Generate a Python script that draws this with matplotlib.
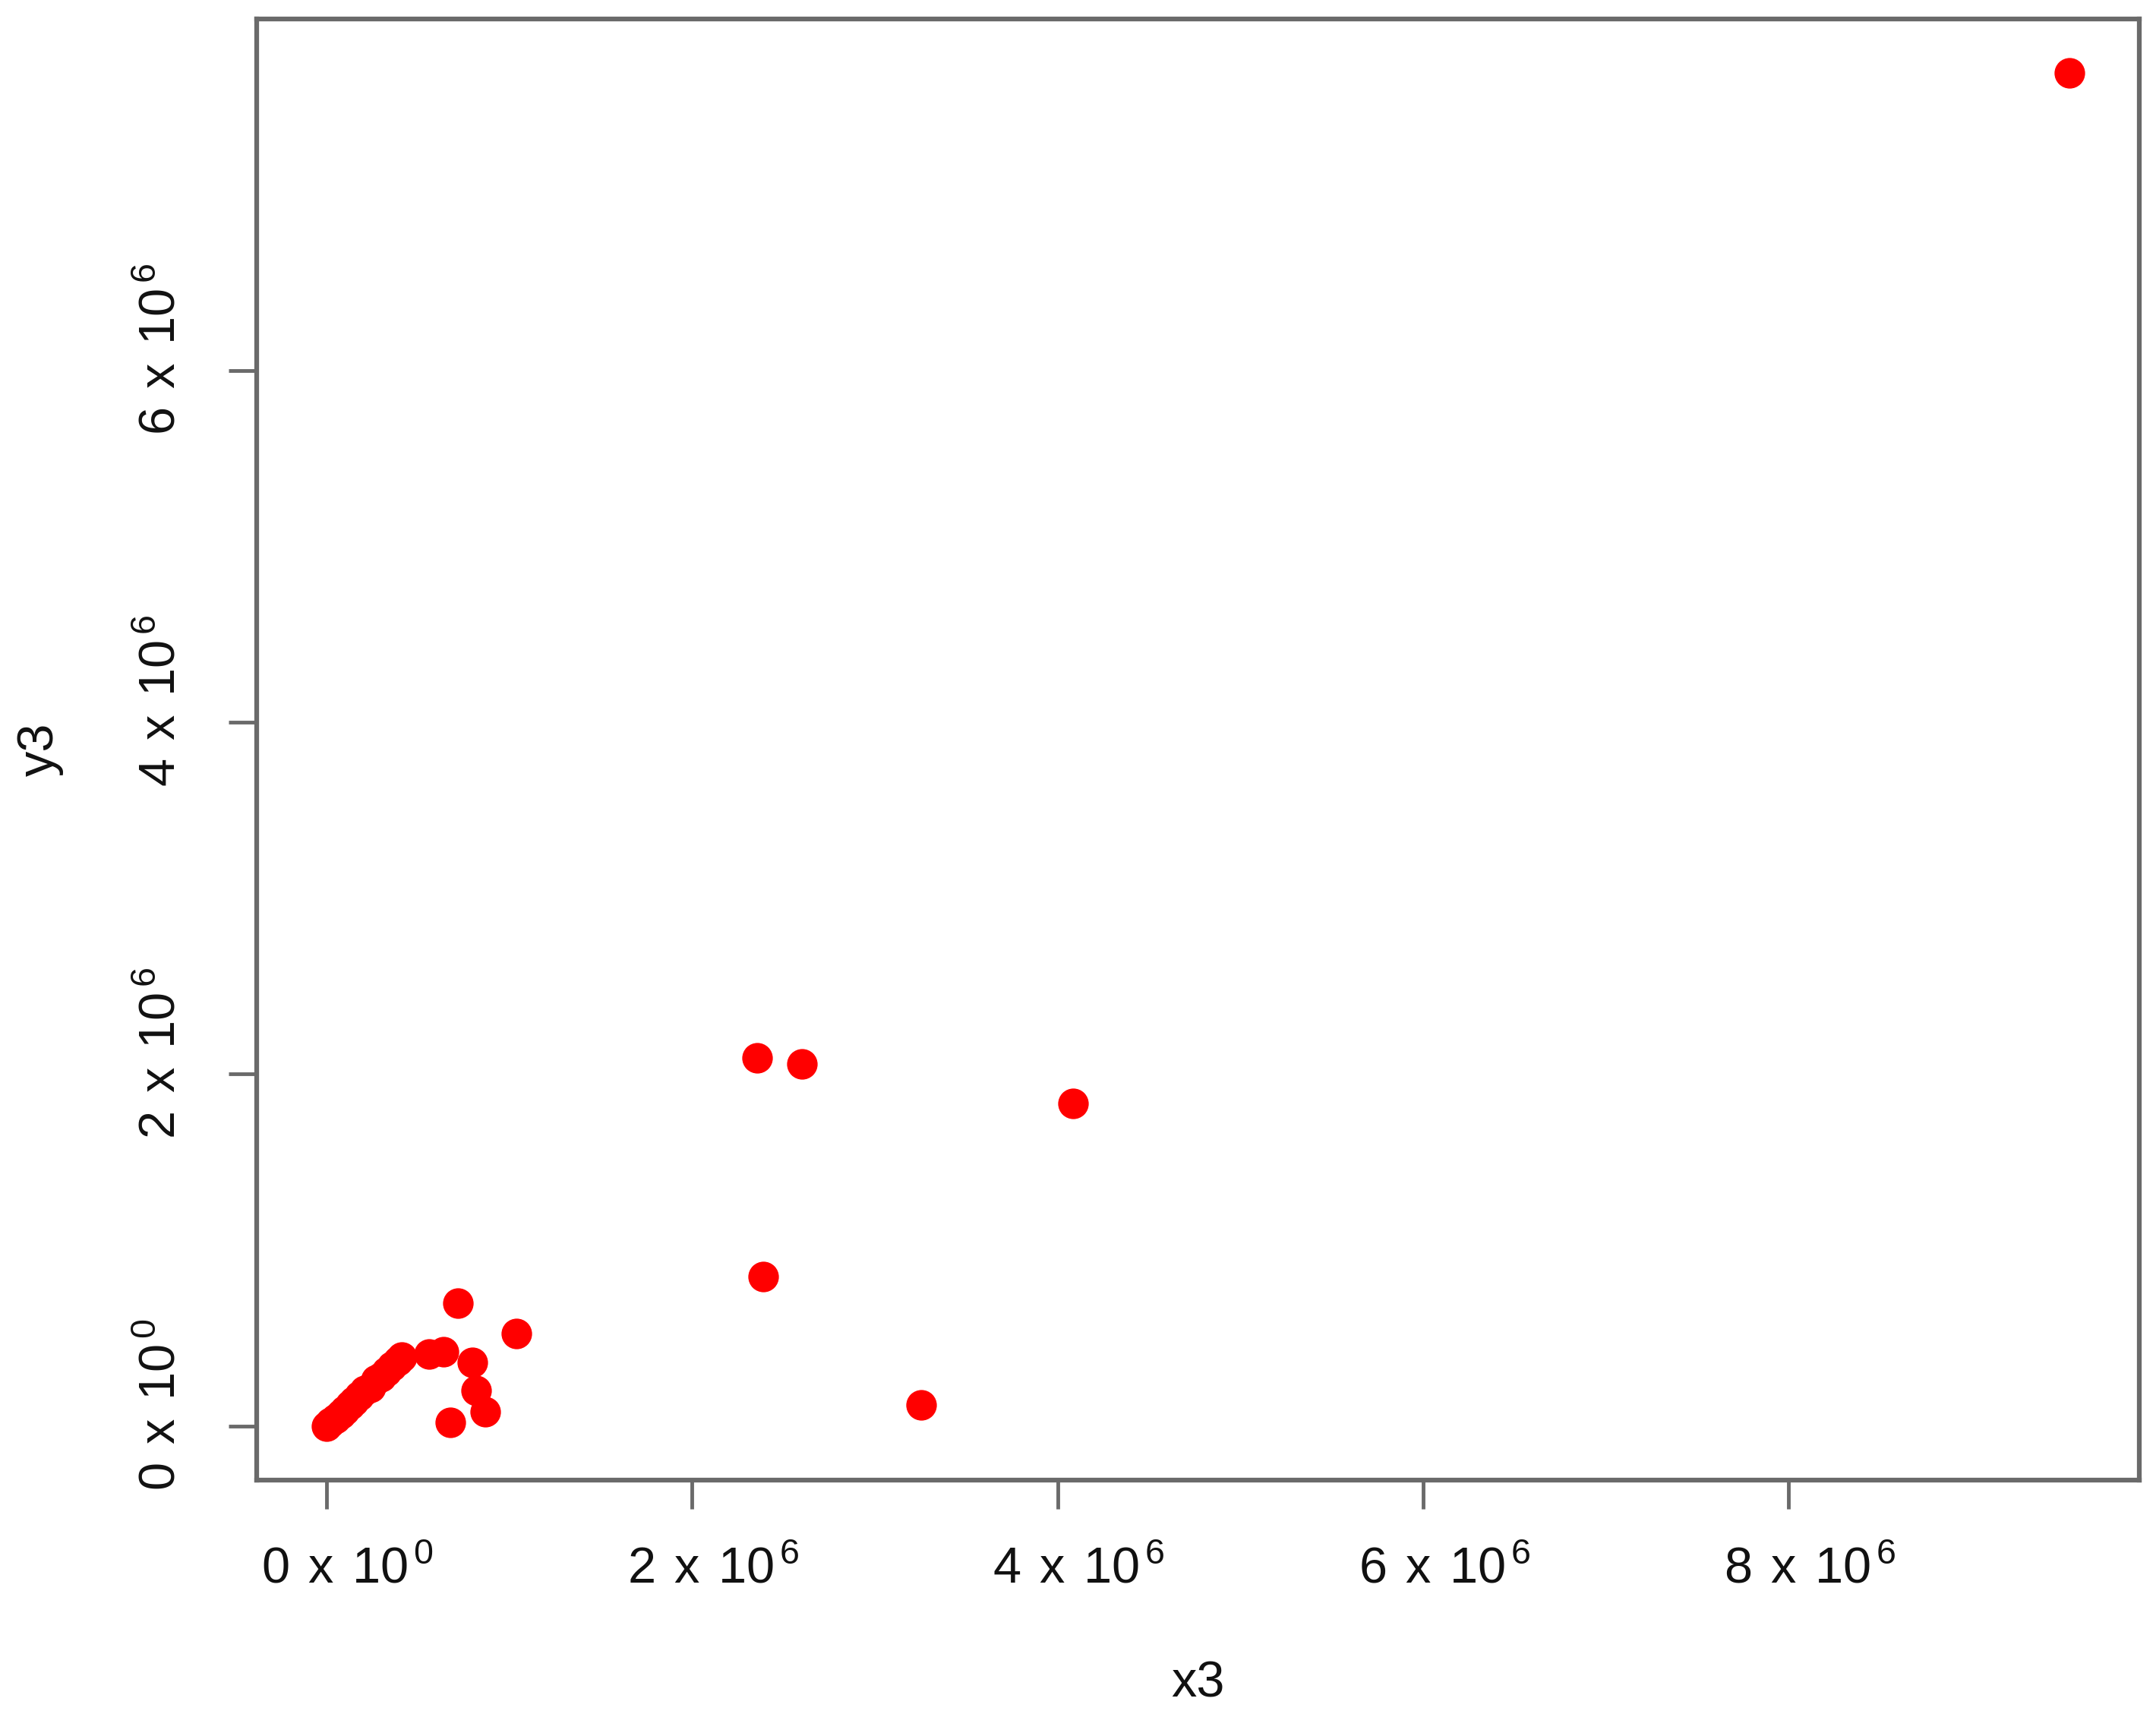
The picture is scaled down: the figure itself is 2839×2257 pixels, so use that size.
import numpy as np
import matplotlib
matplotlib.use('Agg')
import matplotlib.pyplot as plt
from matplotlib.transforms import ScaledTranslation

plt.rcParams['font.family'] = ['Liberation Sans', 'DejaVu Sans']
plt.rcParams['mathtext.fontset'] = 'custom'
plt.rcParams['mathtext.rm'] = 'Liberation Sans'
plt.rcParams['mathtext.it'] = 'Liberation Sans'
plt.rcParams['mathtext.default'] = 'regular'

# values, in millions
x3 = [0.00, 0.02, 0.05, 0.08, 0.10, 0.13, 0.15, 0.18, 0.21, 0.24, 0.27, 0.30,
      0.33, 0.36, 0.39, 0.41,
      0.56, 0.64, 0.72, 1.04, 0.80, 0.82, 0.87, 0.68,
      2.355, 2.60, 4.087, 2.39, 3.255, 9.537]
y3 = [0.00, 0.02, 0.04, 0.07, 0.09, 0.12, 0.14, 0.17, 0.20, 0.22, 0.26, 0.28,
      0.31, 0.34, 0.37, 0.39,
      0.41, 0.42, 0.70, 0.525, 0.36, 0.20, 0.08, 0.02,
      2.094, 2.056, 1.835, 0.849, 0.119, 7.69]
xticks = [0, 2, 4, 6, 8]
yticks = [0, 2, 4, 6]
xticklabels = ['0 x 10^0', '2 x 10^6', '4 x 10^6', '6 x 10^6', '8 x 10^6']
yticklabels = ['0 x 10^0', '2 x 10^6', '4 x 10^6', '6 x 10^6']

x = np.array(x3) * 1e6
y = np.array(y3) * 1e6


def as_math(s):
    base, exp = s.split('^')
    base = base.replace(' ', r'\:\:')
    return '$' + base + r'^{\,' + exp + '}$'


fig = plt.figure(figsize=(28.39, 22.57), dpi=100)
ax = fig.add_axes([0.11906, 0.13647, 0.87319, 0.85246])

ax.plot(x, y, 'o', color='red', ms=29, mew=0)

# R style axis range: data range plus 4% on each side
rx = x.max() - x.min()
ry = y.max() - y.min()
ax.set_xlim(x.min() - 0.04 * rx, x.max() + 0.04 * rx)
ax.set_ylim(y.min() - 0.04 * ry, y.max() + 0.04 * ry)

ax.set_xticks(np.array(xticks) * 1e6)
ax.set_xticklabels([as_math(s) for s in xticklabels])
ax.set_yticks(np.array(yticks) * 1e6)
ax.set_yticklabels([as_math(s) for s in yticklabels], rotation=90, va='center')

for side in ax.spines.values():
    side.set_color('#6a6a6a')
    side.set_linewidth(4.5)
ax.tick_params(axis='x', length=27, width=3.5, color='#6a6a6a', labelsize=48,
               pad=36, labelcolor='#111111')
ax.tick_params(axis='y', length=27, width=3.5, color='#6a6a6a', labelsize=48,
               pad=40, labelcolor='#111111')

# labels in the original sit a bit off their ticks
for lab in ax.get_xticklabels():
    lab.set_transform(lab.get_transform() + ScaledTranslation(0.28, 0, fig.dpi_scale_trans))
for lab in ax.get_yticklabels():
    lab.set_transform(lab.get_transform() + ScaledTranslation(0, 0.28, fig.dpi_scale_trans))

ax.set_xlabel('x3', fontsize=48, color='#111111', va='center')
ax.xaxis.set_label_coords(0.5, -0.1393)
ax.set_ylabel('y3', fontsize=48, color='#111111')
ax.yaxis.set_label_coords(-0.1025, 0.5)

fig.savefig('out.png', dpi=100, facecolor='white')
